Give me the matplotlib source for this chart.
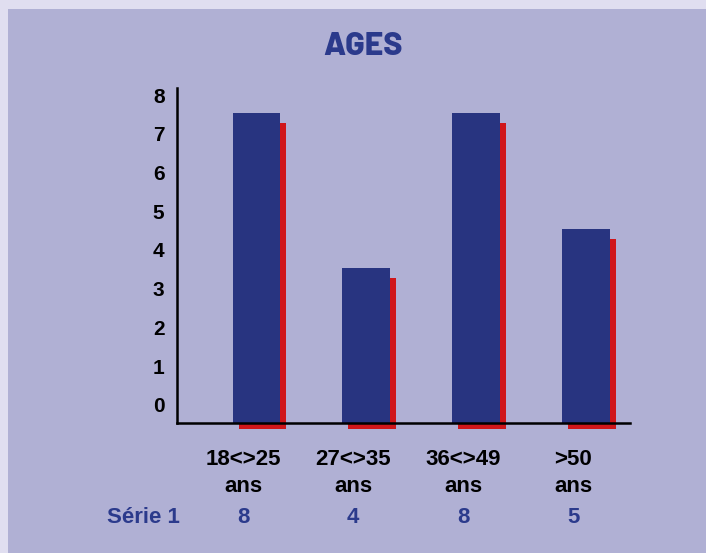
import matplotlib.pyplot as plt
import matplotlib.transforms as mtransforms
from matplotlib.patches import Rectangle
import numpy as np

# age groups and head counts
categories = ["18<>25\nans", "27<>35\nans", "36<>49\nans", ">50\nans"]
counts = [8, 4, 8, 5]
series_name = "Série 1"
yticks = [0, 1, 2, 3, 4, 5, 6, 7, 8]

border = "#e0def0"
panel = "#b0b0d4"
bar_blue = "#283480"
shadow_red = "#d0161a"
title_blue = "#2b3a8c"

plt.rcParams['font.family'] = ['Liberation Sans', 'DejaVu Sans']
plt.rcParams['font.weight'] = 'bold'

fig = plt.figure(figsize=(7.06, 5.53), dpi=100)
fig.patch.set_facecolor(border)
fig.patches.append(Rectangle((8 / 706, 0), 1, 1 - 9 / 553, transform=fig.transFigure,
                             facecolor=panel, edgecolor='none', zorder=-1))

ax = fig.add_axes([177 / 706, 0.2141, (630 - 177) / 706, 0.6271])
ax.patch.set_alpha(0)

x = np.arange(len(counts))
w = 0.43
vals = np.array(counts, dtype=float)

# red drop shadow, shifted a few pixels right and a bit below the baseline
shift = ax.transData + mtransforms.ScaledTranslation(6 / 100, 0, fig.dpi_scale_trans)
ax.bar(x, vals - 0.25 + 0.16, bottom=-0.16, width=w, color=shadow_red,
       transform=shift, zorder=2)
ax.bar(x, vals, width=w, color=bar_blue, zorder=3)

ax.set_xlim(-0.72, 3.40)
ax.set_ylim(-0.3, 8.65)

for s in ['top', 'right']:
    ax.spines[s].set_visible(False)
ax.spines['bottom'].set_position(('data', 0))
ax.spines['left'].set_bounds(0, 8.65)
for s in ['bottom', 'left']:
    ax.spines[s].set_linewidth(1.8)
    ax.spines[s].set_zorder(5)

ax.set_yticks(yticks)
ax.set_yticklabels([str(t) for t in yticks], fontsize=15, fontweight='bold')
ax.tick_params(axis='y', length=0, pad=9)
up = mtransforms.ScaledTranslation(0, 18 / 100, fig.dpi_scale_trans)
for lab in ax.get_yticklabels():
    lab.set_transform(lab.get_transform() + up)
ax.set_xticks([])

# category labels and data row under the chart
col = mtransforms.blended_transform_factory(ax.transData, fig.transFigure) + \
    mtransforms.ScaledTranslation(-13 / 100, 0, fig.dpi_scale_trans)
for xi, cat, v in zip(x, categories, counts):
    ax.text(xi, 1 - 449 / 553, cat, transform=col, ha='center', va='top',
            fontsize=16, fontweight='bold', color='black', linespacing=1.38)
    ax.text(xi, 1 - 523 / 553, str(v), transform=col, ha='center', va='baseline',
            fontsize=16, fontweight='bold', color=title_blue)
fig.text(107 / 706, 1 - 523 / 553, series_name, ha='left', va='baseline',
         fontsize=16, fontweight='bold', color=title_blue)

fig.text(363 / 706, 1 - 55 / 553, "AGES", ha='center', va='baseline',
         fontsize=23, fontweight='heavy', color=title_blue,
         family=['Barlow', 'Barlow Semi Condensed', 'Liberation Sans'])

fig.savefig("out.png", dpi=100, facecolor=fig.get_facecolor())
